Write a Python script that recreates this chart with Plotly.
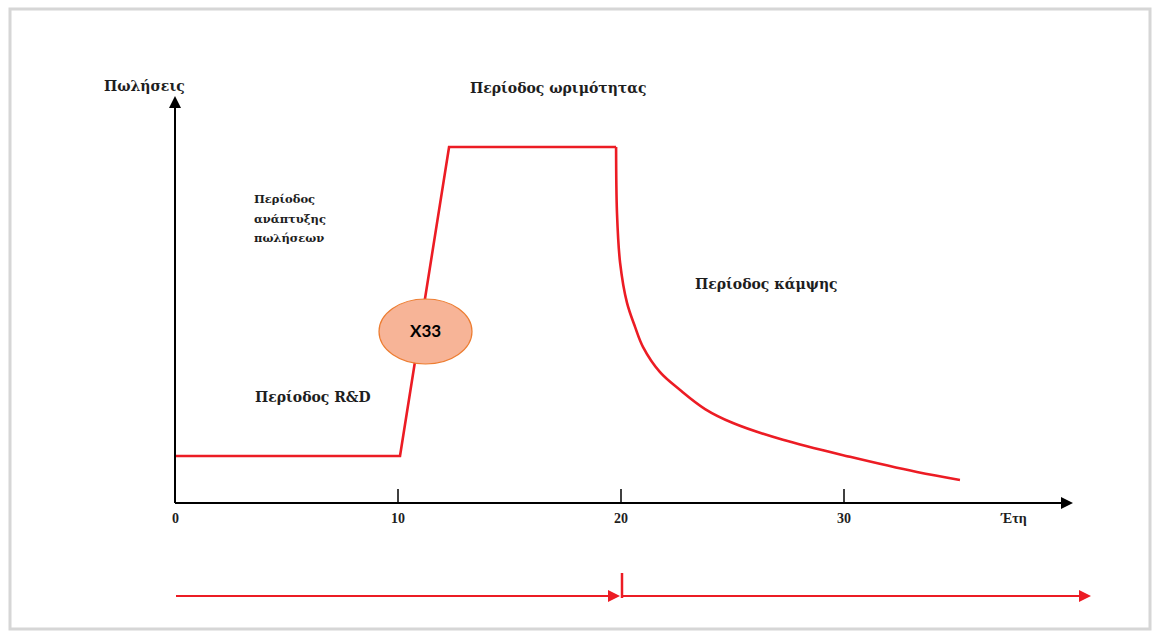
import plotly.graph_objects as go

# ---- data ----
growth_years = [0, 10.09, 12.29, 19.78]
growth_sales = [11.6, 11.6, 87.9, 87.9]
decline_years = [19.78, 19.82, 19.96, 20.27, 20.63, 20.99, 21.75, 22.65, 23.77, 25.02, 27.26, 30.27, 33.27, 35.2]
decline_sales = [87.9, 71.6, 59.3, 49.4, 43.5, 38.5, 32.3, 27.9, 23.2, 19.75, 15.6, 11.4, 7.65, 5.7]
tick_values = [10, 20, 30]
tick_labels = ["0", "10", "20", "30", "Έτη"]
tick_label_x = [0, 10, 20, 30, 37.6]
y_title = "Πωλήσεις"
maturity_label = "Περίοδος ωριμότητας"
growth_label_lines = ["Περίοδος", "ανάπτυξης", "πωλήσεων"]
decline_label = "Περίοδος κάμψης"
rd_label = "Περίοδος R&D"
badge_text = "X33"

# pixel -> data mapping helpers (layout only)
PX_PER_X = 22.3
PX_PER_Y = 4.05
X0PIX, Y0PIX = 175, 503
W, H = 1155, 634

def dx(p):
    return (p - X0PIX) / PX_PER_X

def dy(p):
    return (Y0PIX - p) / PX_PER_Y

RED = "#ec1c24"
SERIF = "DejaVu Serif"
TXT = "#1e1e1e"

fig = go.Figure()
fig.add_trace(go.Scatter(x=growth_years, y=growth_sales, mode="lines",
                         line=dict(color=RED, width=2.6),
                         hoverinfo="skip", showlegend=False))
fig.add_trace(go.Scatter(x=decline_years, y=decline_sales, mode="lines",
                         line=dict(color=RED, width=2.6, shape="spline", smoothing=1.0),
                         hoverinfo="skip", showlegend=False))

shapes = []
# frame
shapes.append(dict(type="rect", xref="paper", yref="paper", x0=10/W, x1=1150/W, y0=1-629/H, y1=1-9/H,
                   line=dict(color="#d6d6d6", width=3), fillcolor="rgba(0,0,0,0)", layer="below"))
# ticks
for t in tick_values:
    shapes.append(dict(type="line", x0=t, x1=t, y0=0, y1=dy(489), line=dict(color="black", width=1.5)))
# bottom red timeline
shapes.append(dict(type="line", x0=dx(176), x1=dx(612), y0=dy(596), y1=dy(596), line=dict(color=RED, width=2)))
shapes.append(dict(type="line", x0=dx(622), x1=dx(1082), y0=dy(596), y1=dy(596), line=dict(color=RED, width=2)))
shapes.append(dict(type="line", x0=dx(622), x1=dx(622), y0=dy(573), y1=dy(598), line=dict(color=RED, width=2.5)))
# badge ellipse
shapes.append(dict(type="circle", x0=dx(379), x1=dx(472), y0=dy(364), y1=dy(299),
                   fillcolor="#f7b497", line=dict(color="#ed7d31", width=1.2), layer="above"))

annotations = []
# axes with arrows
annotations.append(dict(x=0, y=dy(96), ax=0, ay=0, xref="x", yref="y", axref="x", ayref="y",
                        showarrow=True, arrowhead=2, arrowsize=1.2, arrowwidth=2, arrowcolor="black", text=""))
annotations.append(dict(x=dx(1073), y=0, ax=0, ay=0, xref="x", yref="y", axref="x", ayref="y",
                        showarrow=True, arrowhead=2, arrowsize=1.2, arrowwidth=2, arrowcolor="black", text=""))
# red arrows
annotations.append(dict(x=dx(620), y=dy(596), ax=dx(600), ay=dy(596), xref="x", yref="y", axref="x", ayref="y",
                        showarrow=True, arrowhead=2, arrowsize=1.2, arrowwidth=2, arrowcolor=RED, text=""))
annotations.append(dict(x=dx(1091), y=dy(596), ax=dx(1060), ay=dy(596), xref="x", yref="y", axref="x", ayref="y",
                        showarrow=True, arrowhead=2, arrowsize=1.2, arrowwidth=2, arrowcolor=RED, text=""))
# tick labels
for tx, tl in zip(tick_label_x, tick_labels):
    annotations.append(dict(x=tx, y=dy(518), xref="x", yref="y", text="<b>%s</b>" % tl, showarrow=False,
                            font=dict(family="Liberation Serif", size=14, color=TXT)))
# y title
annotations.append(dict(x=dx(144), y=dy(86), xref="x", yref="y", text="<b>%s</b>" % y_title, showarrow=False,
                        font=dict(family=SERIF, size=14, color=TXT)))
# phase labels
annotations.append(dict(x=dx(558), y=dy(88), xref="x", yref="y", text="<b>%s</b>" % maturity_label, showarrow=False,
                        font=dict(family=SERIF, size=14, color=TXT)))
for i, line in enumerate(growth_label_lines):
    annotations.append(dict(x=dx(252), y=dy(199 + 19.5 * i), xref="x", yref="y", text="<b>%s</b>" % line,
                            showarrow=False, xanchor="left", font=dict(family=SERIF, size=11.5, color=TXT)))
annotations.append(dict(x=dx(766), y=dy(284), xref="x", yref="y", text="<b>%s</b>" % decline_label, showarrow=False,
                        font=dict(family=SERIF, size=14, color=TXT)))
annotations.append(dict(x=dx(253), y=dy(397), xref="x", yref="y", text="<b>%s</b>" % rd_label, showarrow=False,
                        xanchor="left", font=dict(family=SERIF, size=14, color=TXT)))
# badge text
annotations.append(dict(x=dx(425), y=dy(330), xref="x", yref="y", text="<b>%s</b>" % badge_text, showarrow=False,
                        font=dict(family="Lato", size=17, color="black")))

fig.update_layout(
    width=W, height=H, margin=dict(l=0, r=0, t=0, b=0),
    paper_bgcolor="white", plot_bgcolor="white",
    xaxis=dict(range=[dx(0), dx(W)], visible=False, fixedrange=True),
    yaxis=dict(range=[dy(H), dy(0)], visible=False, fixedrange=True),
    shapes=shapes, annotations=annotations, showlegend=False,
)
# black axis lines
fig.add_trace(go.Scatter(x=[0, 0], y=[0, dy(100)], mode="lines", line=dict(color="black", width=2),
                         hoverinfo="skip", showlegend=False))
fig.add_trace(go.Scatter(x=[0, dx(1068)], y=[0, 0], mode="lines", line=dict(color="black", width=2),
                         hoverinfo="skip", showlegend=False))

fig.write_html("out.html", config={"displayModeBar": False},
               post_script="document.body.style.margin='0';document.body.style.overflow='hidden';")
